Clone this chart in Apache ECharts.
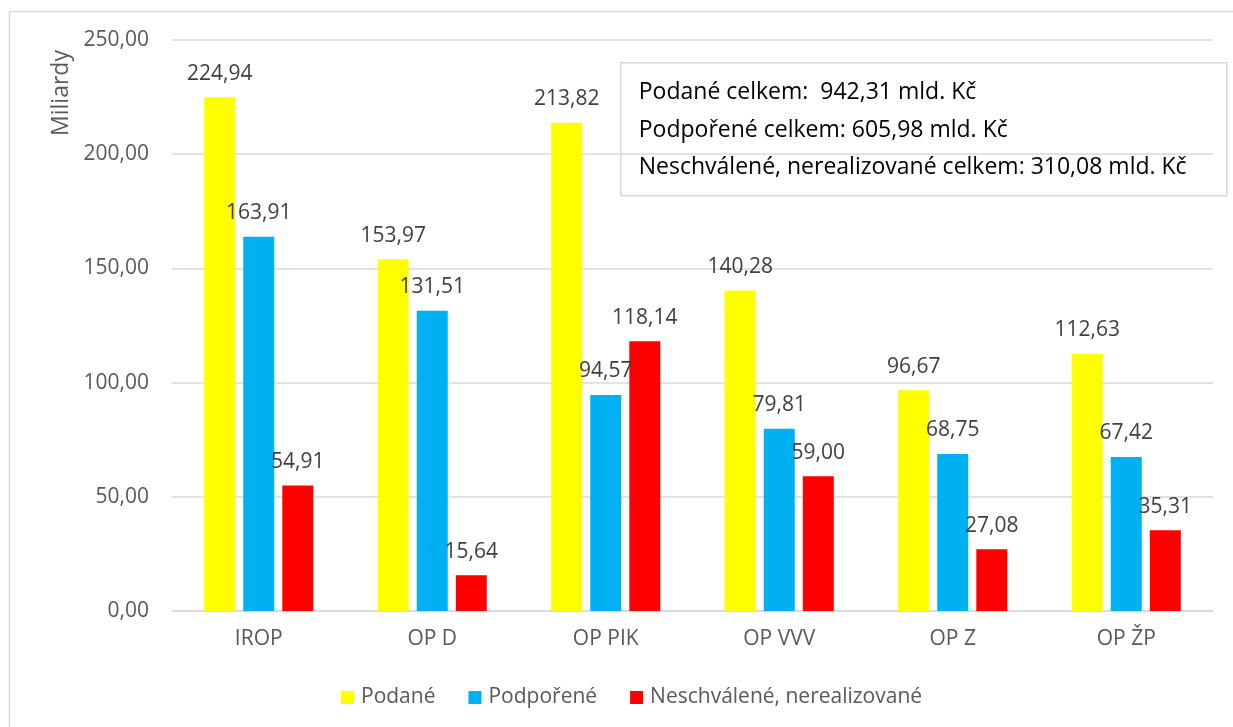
<!DOCTYPE html>
<html lang="cs">
<head>
<meta charset="utf-8">
<title>Podané, podpořené a neschválené projekty</title>
<script src="https://cdn.jsdelivr.net/npm/echarts@6/dist/echarts.min.js"></script>
<style>
  html, body { margin: 0; padding: 0; background: #fff; }
  #chart { width: 1233px; height: 727px; }
</style>
</head>
<body>
<div id="chart"></div>
<script>
// Data
const categories = ["IROP", "OP D", "OP PIK", "OP VVV", "OP Z", "OP ŽP"];
const podane = [224.94, 153.97, 213.82, 140.28, 96.67, 112.63];
const podporene = [163.91, 131.51, 94.57, 79.81, 68.75, 67.42];
const neschvalene = [54.91, 15.64, 118.14, 59.0, 27.08, 35.31];
const seriesNames = ["Podané", "Podpořené", "Neschválené, nerealizované"];
const summaryLines = [
  "Podané celkem:  942,31 mld. Kč",
  "Podpořené celkem: 605,98 mld. Kč",
  "Neschválené, nerealizované celkem: 310,08 mld. Kč",
];

const FONT = "'Open Sans', 'Noto Sans', sans-serif";
const colors = ["#FFFF00", "#00B0F0", "#FF0000"];

// cislo s desetinnou carkou
function czNum(v) {
  return Number(v).toFixed(2).replace(".", ",");
}

function makeSeries(name, data, color) {
  return {
    name: name,
    type: "bar",
    data: data,
    barWidth: 31,
    barGap: "26%",
    itemStyle: { color: color },
    label: {
      show: true,
      position: "top",
      distance: 13,
      color: "#404040",
      fontFamily: FONT,
      fontSize: 21,
      formatter: (p) => czNum(p.value),
    },
  };
}

const chart = echarts.init(document.getElementById("chart"), null, { renderer: "canvas" });

const option = {
  animation: false,
  backgroundColor: "#fff",
  color: colors,
  grid: { left: 172, right: 20, top: 40, bottom: 116, containLabel: false },
  legend: {
    left: 336,
    top: 682,
    itemWidth: 13,
    itemHeight: 13,
    itemGap: 33,
    icon: "rect",
    textStyle: { color: "#595959", fontFamily: FONT, fontSize: 21, padding: [0, 0, 0, 2] },
    data: seriesNames,
  },
  xAxis: {
    type: "category",
    data: categories,
    axisLine: { show: true, lineStyle: { color: "#D9D9D9", width: 1.5 } },
    axisTick: { show: false },
    axisLabel: { color: "#595959", fontFamily: FONT, fontSize: 21, margin: 18 },
  },
  yAxis: {
    type: "value",
    min: 0,
    max: 250,
    interval: 50,
    axisLine: { show: false },
    axisTick: { show: false },
    splitLine: { lineStyle: { color: "#D9D9D9", width: 1.5 } },
    axisLabel: {
      color: "#595959",
      fontFamily: FONT,
      fontSize: 21,
      margin: 23,
      formatter: (v) => czNum(v),
    },
  },
  series: [
    makeSeries(seriesNames[0], podane, colors[0]),
    makeSeries(seriesNames[1], podporene, colors[1]),
    makeSeries(seriesNames[2], neschvalene, colors[2]),
  ],
  graphic: [
    // ramecek grafu (jen horni a leva hrana je videt)
    {
      type: "rect",
      shape: { x: 9.5, y: 11.5, width: 1240, height: 740 },
      style: { fill: null, stroke: "#D9D9D9", lineWidth: 1.5 },
      silent: true,
      z: -1,
    },
    // nazev osy Y
    {
      type: "text",
      x: 61,
      y: 93,
      rotation: Math.PI / 2,
      style: {
        text: "Miliardy",
        fill: "#595959",
        font: "23px " + FONT,
        align: "center",
        verticalAlign: "middle",
      },
    },
    // textove pole se souhrnem
    {
      type: "group",
      left: 620,
      top: 62,
      z: 100,
      children: [
        {
          type: "rect",
          shape: { x: 0, y: 0, width: 606, height: 133 },
          style: { fill: "#fff", stroke: "#D9D9D9", lineWidth: 1.5 },
        },
      ].concat(
        summaryLines.map((line, i) => ({
          type: "text",
          x: 18,
          y: 30 + i * 37.5,
          style: {
            text: line,
            fill: "#000",
            font: "23px " + FONT,
            verticalAlign: "middle",
          },
        }))
      ),
    },
  ],
};

chart.setOption(option);
console.log("graf vykreslen");
</script>
</body>
</html>
